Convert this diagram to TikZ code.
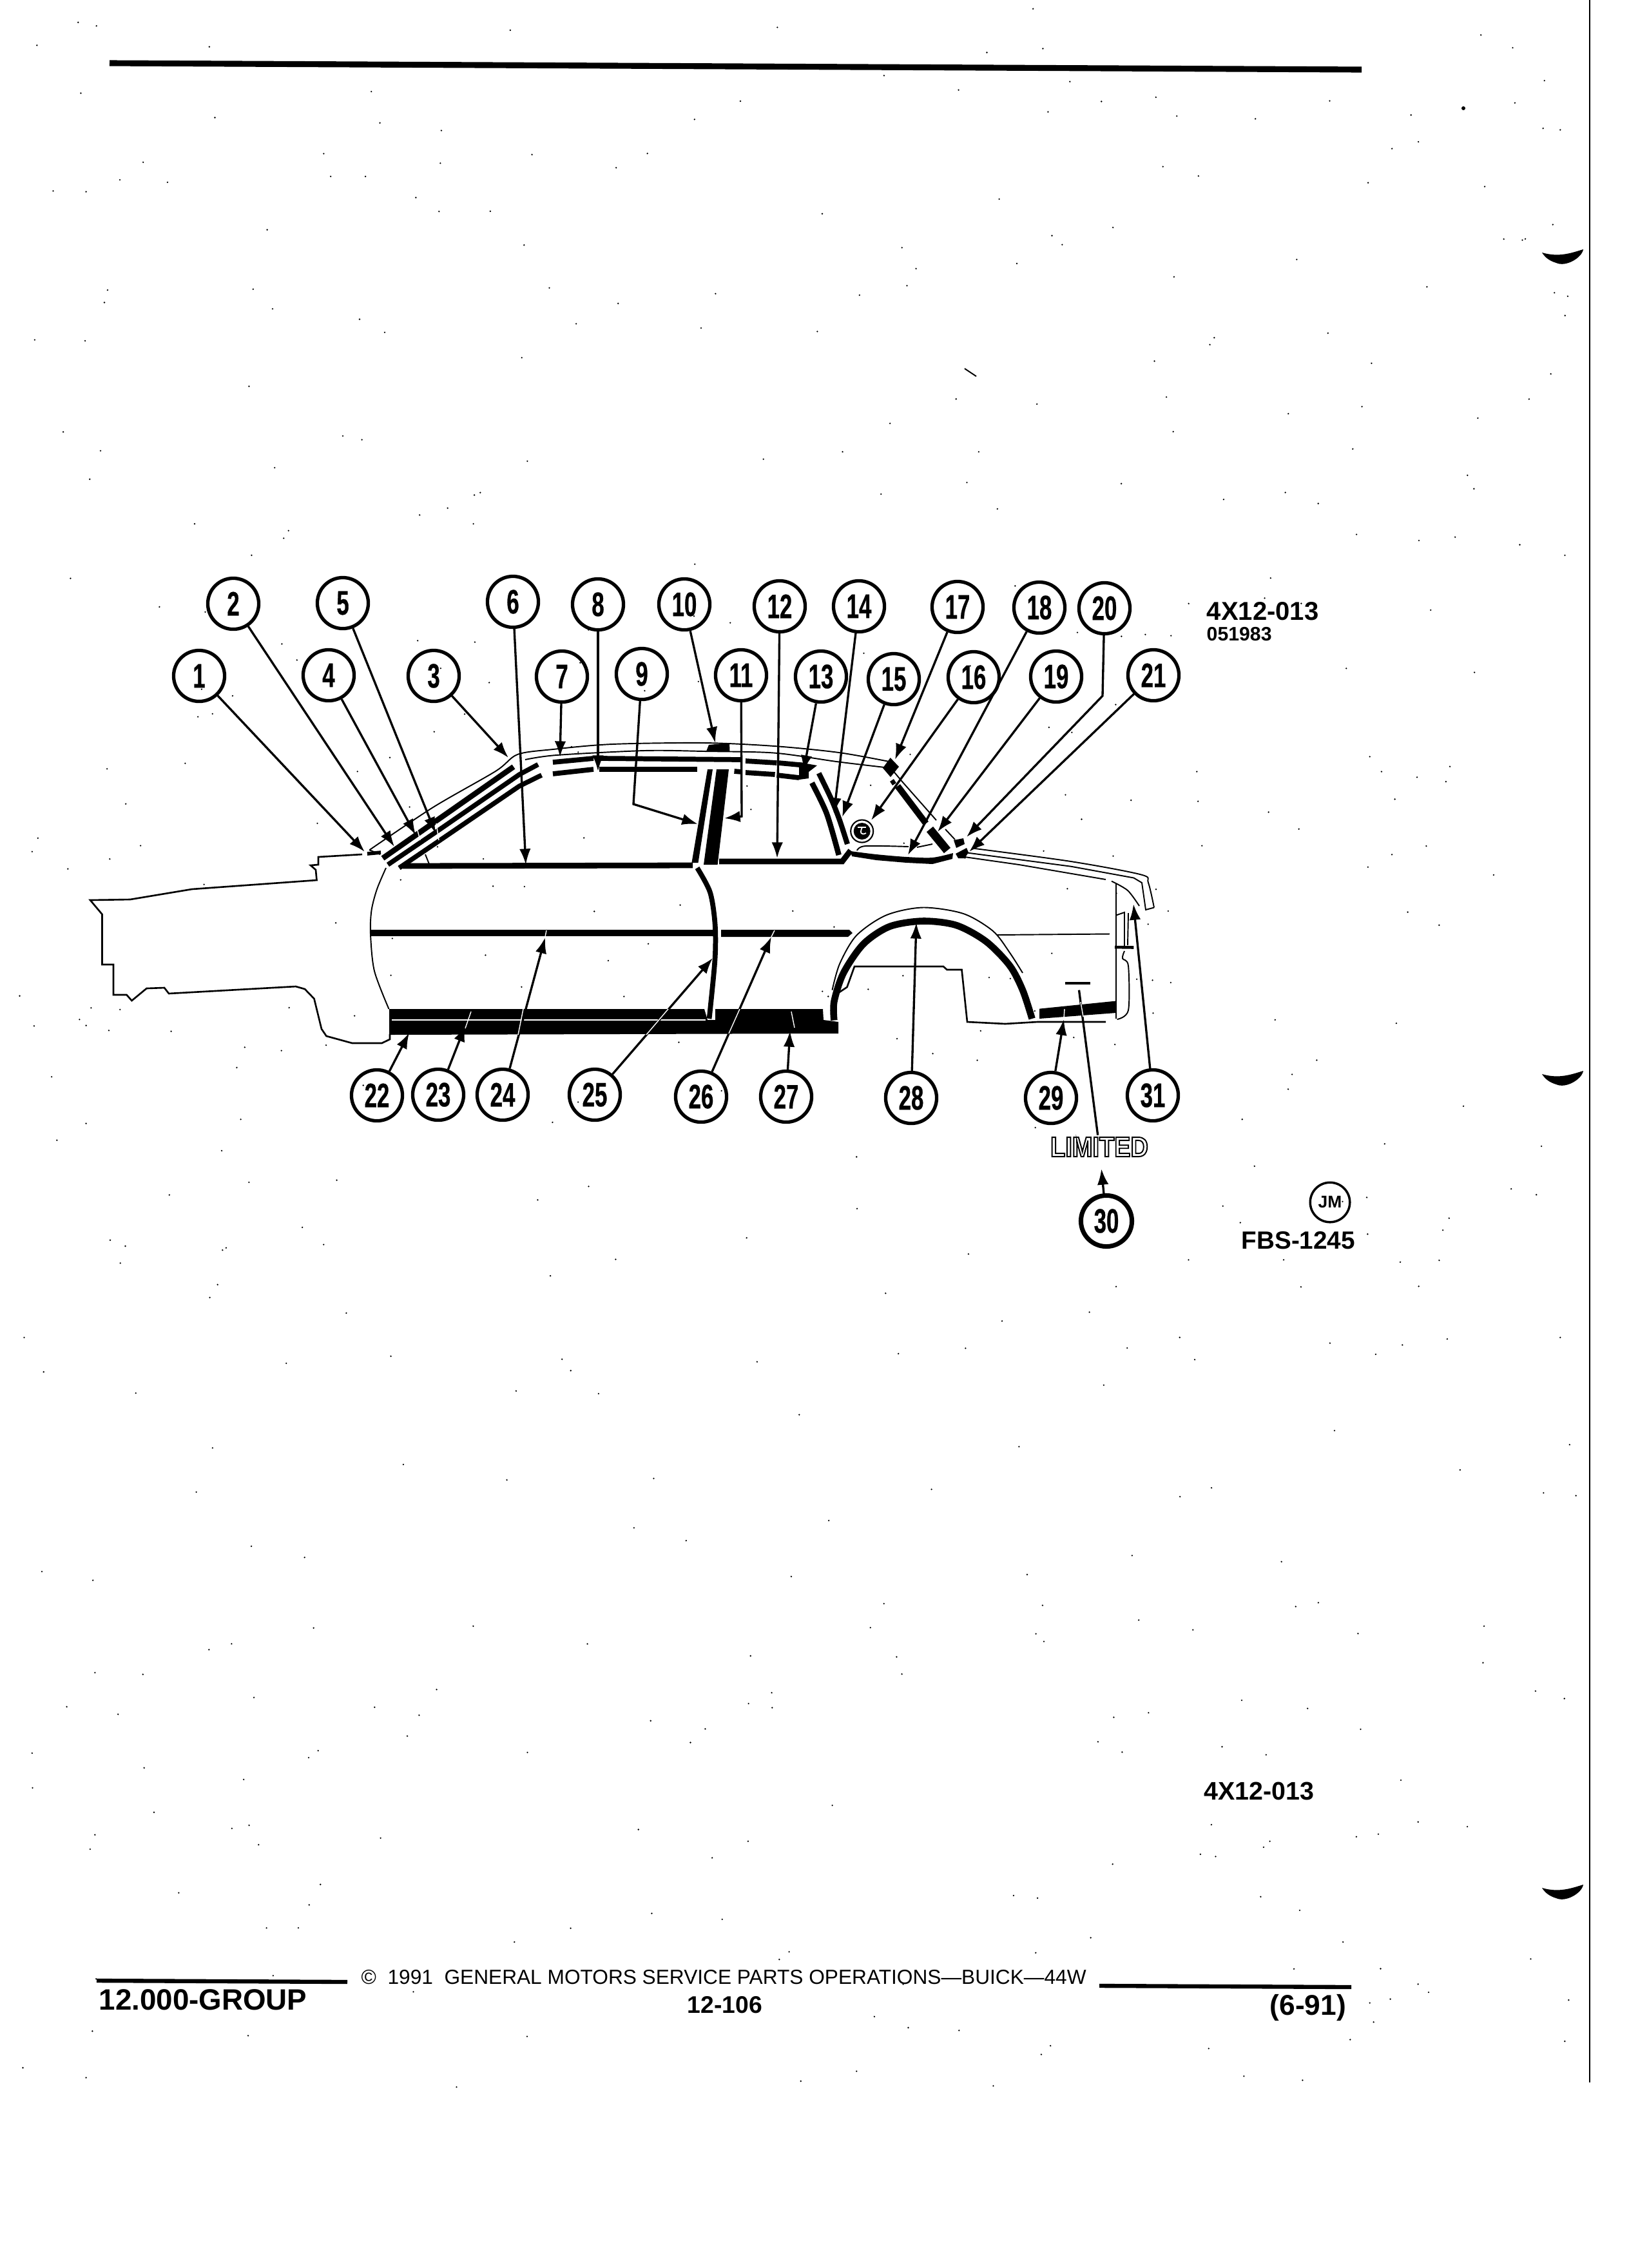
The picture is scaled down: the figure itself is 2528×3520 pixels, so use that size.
\documentclass[tikz,border=0pt]{standalone}
\usepackage{fontspec}
\setmainfont{Liberation Sans}
\newfontfamily\calloutfont[FakeStretch=0.66, FakeBold=0.5]{Liberation Sans}
\newfontfamily\limitedfont[FakeStretch=0.87]{Liberation Sans}
\usetikzlibrary{arrows.meta}
\tikzset{
	callout/.style={circle, draw, line width=1.5pt, minimum size=22.5pt, inner sep=0, font=\calloutfont\bfseries\fontsize{15}{15}\selectfont},
	leader/.style={line width=0.95pt, ->},
	wire/.style={line width=0.95pt},
	body/.style={line width=0.75pt},
	fine/.style={line width=0.55pt},
	stripe/.style={line width=2.4pt},
	seam/.style={white, line width=0.4pt},
	label/.style={inner sep=0, font=\bfseries\fontsize{11.4}{11.4}\selectfont},
	footer/.style={inner sep=0, anchor=west}
}
\begin{document}
\begin{tikzpicture}[x=0.01cm, y=-0.01cm, >={Latex[length=7pt, width=5pt]}]
	\useasboundingbox (0, 0) rectangle (2528, 3520);
	\fill[white] (0, 0) rectangle (2528, 3520);

	\pgfmathsetseed{1991}
	\foreach \i in {1,...,520} {
		\fill ({rnd*2420 + 30}, {rnd*3240}) circle (1.3);
	}

	\draw[line width=2.6pt] (170, 98) -- (2113, 108);
	\draw[line width=0.7pt] (2467, 0) -- (2467, 3232);
	\fill (2393, 392) .. controls (2420, 400) and (2440, 392) .. (2457, 387) .. controls (2455, 400) and (2430, 415) .. (2415, 408) .. controls (2405, 405) and (2398, 400) .. cycle;
	\fill (2393, 1667) .. controls (2420, 1675) and (2440, 1667) .. (2457, 1662) .. controls (2455, 1675) and (2430, 1690) .. (2415, 1683) .. controls (2405, 1680) and (2398, 1675) .. cycle;
	\fill (2393, 2930) .. controls (2420, 2938) and (2440, 2930) .. (2457, 2925) .. controls (2455, 2938) and (2430, 2953) .. (2415, 2946) .. controls (2405, 2943) and (2398, 2938) .. cycle;
	\fill (2271, 168) circle (3);
	\draw[fine] (1497, 572) -- (1515, 584);

	\draw[body] (562, 1326) -- (494, 1330) -- (494, 1342) -- (482, 1343) -- (490, 1350) -- (491.5, 1366) -- (298, 1380) -- (202, 1396) -- (140, 1397) -- (158.5, 1419) -- (158.5, 1497) -- (176, 1497) -- (176, 1544) -- (196.5, 1544) -- (204.5, 1553) -- (227.5, 1534) -- (255, 1533) -- (262, 1542) -- (459, 1531) -- (473, 1535) -- (487.5, 1550) -- (499, 1597) -- (506.5, 1608) -- (546.6, 1619) -- (592.5, 1619) -- (605, 1613) -- (605, 1605);
	\draw[fine] plot[smooth] coordinates {(599, 1347) (585, 1380) (576.5, 1413) (575, 1450) (581, 1507) (603.5, 1566)};

	\fill (604, 1566) -- (1093, 1566) -- (1098, 1583) -- (1110, 1583) -- (1110, 1566) -- (1277, 1566) -- (1278, 1583) -- (1301, 1586) -- (1301, 1604) -- (604, 1606) -- cycle;
	\draw[seam] (608, 1583) -- (1095, 1583);
	\draw[line width=2.8pt] (576, 1448) -- (1108, 1448);
	\fill (1119, 1443) -- (1318, 1443) -- (1323, 1448) -- (1316, 1454) -- (1119, 1454) -- cycle;
	\draw[line width=2.2pt] plot[smooth] coordinates {(1082, 1347) (1102, 1385) (1109.6, 1434) (1109.6, 1487.5) (1102, 1568) (1100.4, 1581)};

	\draw[line width=2.5pt] (625, 1344) -- (1075, 1343);
	\draw[line width=2.5pt] (1116, 1337) -- (1307, 1337) -- (1320, 1320);
	\draw[fine] (660, 1326) -- (666, 1341);
	\draw[fine] plot[smooth] coordinates {(573.6, 1319) (672, 1253) (769, 1197) (803, 1171) (858, 1163) (950, 1155) (1093, 1153) (1202, 1158) (1302, 1168) (1380, 1182)};
	\draw[fine] plot[smooth] coordinates {(815, 1179) (863.5, 1172) (1000, 1165) (1093, 1166) (1202, 1168.6) (1298, 1182) (1373, 1191)};
	\draw[line width=1.6pt] (570, 1325) -- (591, 1323);
	\draw[fine] (573, 1319) -- (590, 1326);

	\draw[stripe] (594, 1332) -- (797, 1190);
	\draw[line width=2.1pt] (602, 1342) -- (677, 1291) -- (806, 1202) -- (835, 1186.5);
	\draw[line width=2.1pt] (619.5, 1347) -- (680, 1306) -- (806, 1220) -- (840.5, 1203);
	\draw[seam] (677, 1278) -- (681, 1304);
	\draw[seam] (648, 1289) -- (652, 1304);

	\draw[line width=2.2pt] (858, 1183) -- (921, 1177);
	\draw[line width=2.2pt] (932, 1177) -- (1151, 1179);
	\draw[line width=2.2pt] (1157, 1181) -- (1205.5, 1184);
	\draw[line width=2.2pt] (1208, 1184) -- (1246, 1187.5);
	\draw[line width=2.2pt] (858, 1201) -- (921, 1194);
	\draw[line width=2.2pt] (929.5, 1194) -- (1082, 1194);
	\draw[line width=2.2pt] (1139.5, 1197) -- (1151, 1198);
	\draw[line width=2.2pt] (1157, 1199) -- (1202.6, 1202);
	\draw[line width=2.2pt] (1205.5, 1203) -- (1240, 1207);
	\fill (1240, 1183) -- (1268, 1188) -- (1255, 1198) -- (1255, 1208) -- (1240, 1210) -- cycle;
	\fill (1096, 1166) -- (1100, 1156) -- (1132, 1153) -- (1132.5, 1166) -- cycle;

	\fill (1098, 1194) -- (1106, 1194) -- (1083.5, 1339) -- (1073.4, 1339) -- cycle;
	\fill (1112, 1194) -- (1131, 1194) -- (1113.6, 1342) -- (1092, 1342) -- cycle;

	\draw[line width=2.3pt] plot[smooth] coordinates {(1270.7, 1200) (1290, 1240) (1303, 1273) (1315, 1310)};
	\draw[line width=2.4pt] plot[smooth] coordinates {(1260, 1215) (1283, 1263) (1301.7, 1327)};

	\fill (1381.7, 1176) -- (1395, 1190) -- (1382, 1206) -- (1370, 1192) -- cycle;
	\draw[line width=2pt] (1384, 1211) -- (1388, 1217);
	\draw[line width=2.8pt] (1393, 1220) -- (1437, 1278);
	\draw[line width=3.7pt] (1443, 1287) -- (1470, 1320);
	\draw[fine] (1384, 1194) -- (1400, 1213) -- (1453, 1273);
	\draw[fine] (1467, 1287) -- (1482, 1303);
	\fill (1480, 1304) -- (1495, 1301) -- (1497, 1310) -- (1484, 1316) -- cycle;
	\fill (1483, 1325) -- (1500, 1316) -- (1503, 1323) -- (1497, 1332) -- (1487, 1332) -- cycle;

	\fill plot[smooth] coordinates {(1320, 1321) (1360, 1326) (1407, 1330) (1447, 1331) (1479, 1324)} -- (1478, 1333) -- (1447, 1341) -- (1407, 1339) -- (1360, 1335) -- (1322, 1329) -- cycle;
	\draw[fine] plot[smooth] coordinates {(1330, 1320) (1343, 1313) (1410, 1314)};
	\draw[fine] (1423, 1315) -- (1447, 1310);

	\draw[fine] plot[smooth] coordinates {(1510, 1316.6) (1662, 1337) (1771, 1357.5) (1782, 1370) (1791, 1408.5)};
	\draw[fine] (1791, 1408.5) -- (1778, 1412) -- (1772, 1370) -- (1759.4, 1362.5) -- (1662, 1344.7) -- (1497, 1323);
	\draw[fine] (1497, 1330) -- (1581.5, 1342) -- (1716, 1365);

	\draw[fine] plot[smooth] coordinates {(1725, 1367.6) (1750, 1382) (1768, 1406)};
	\draw[fine] (1732, 1371) -- (1732, 1581);
	\draw[fine] (1732, 1420.5) -- (1745, 1416) -- (1745, 1470);
	\draw[fine] (1751, 1417) -- (1750, 1467);
	\draw[line width=1.3pt] (1730, 1470) -- (1759.4, 1470.5);
	\draw[fine] plot[smooth] coordinates {(1745, 1476) (1742, 1487.5) (1751, 1499) (1751, 1568) (1733.6, 1582)};
	\draw[fine] (1547, 1451) -- (1722, 1449.5);

	\draw[body] (1716, 1586) -- (1610, 1586) -- (1560, 1589) -- (1501, 1586) -- (1492.5, 1505) -- (1469.5, 1505) -- (1464, 1500) -- (1326, 1500) -- (1314.5, 1532) -- (1301, 1541);
	\draw[line width=3pt] plot[smooth] coordinates {(1294.4, 1583.5) (1294.4, 1554.5) (1309, 1510) (1340, 1465) (1380.5, 1438) (1432, 1429.5) (1484, 1436) (1530, 1461) (1567, 1498.7) (1587, 1536.6) (1601.6, 1581)};
	\draw[fine] plot[smooth] coordinates {(1291.5, 1536.6) (1303, 1496) (1329, 1452) (1375, 1420.5) (1432, 1408.5) (1495, 1418) (1541, 1445) (1567, 1478.6) (1587, 1510)};
	\fill (1613, 1565.6) -- (1731, 1553.6) -- (1732, 1572) -- (1613, 1581) -- cycle;
	\draw[line width=1.1pt] (1653, 1526) -- (1692, 1526);

	\draw[line width=0.6pt] (1337.7, 1290) circle (17.5);
	\fill (1337.7, 1290) circle (13);
	\draw[seam, line width=0.5pt] (1331, 1284) -- (1344, 1284);
	\draw[seam, line width=0.5pt] (1338, 1284) .. controls (1334, 1292) and (1336, 1297) .. (1344, 1293);

	\node[callout] (n1) at (309, 1049) {1};
	\node[callout] (n2) at (362, 937) {2};
	\node[callout] (n3) at (673, 1049) {3};
	\node[callout] (n4) at (510, 1048) {4};
	\node[callout] (n5) at (532, 936) {5};
	\node[callout] (n6) at (796, 934) {6};
	\node[callout] (n7) at (872, 1050) {7};
	\node[callout] (n8) at (928, 938) {8};
	\node[callout] (n9) at (996, 1046) {9};
	\node[callout] (n10) at (1062, 938) {10};
	\node[callout] (n11) at (1150, 1048) {11};
	\node[callout] (n12) at (1210, 941) {12};
	\node[callout] (n13) at (1274, 1050) {13};
	\node[callout] (n14) at (1333, 941) {14};
	\node[callout] (n15) at (1387, 1054) {15};
	\node[callout] (n16) at (1511, 1051) {16};
	\node[callout] (n17) at (1486, 942) {17};
	\node[callout] (n18) at (1613, 943) {18};
	\node[callout] (n19) at (1639, 1050) {19};
	\node[callout] (n20) at (1714, 944) {20};
	\node[callout] (n21) at (1790, 1048) {21};
	\node[callout] (n22) at (585, 1700) {22};
	\node[callout] (n23) at (680, 1699) {23};
	\node[callout] (n24) at (780, 1699) {24};
	\node[callout] (n25) at (923, 1699) {25};
	\node[callout] (n26) at (1088, 1702) {26};
	\node[callout] (n27) at (1220, 1702) {27};
	\node[callout] (n28) at (1414, 1704) {28};
	\node[callout] (n29) at (1631, 1704) {29};
	\node[callout, line width=2pt] (n30) at (1717, 1895) {30};
	\node[callout] (n31) at (1789, 1700) {31};

	\node[inner sep=0, minimum width=43pt, minimum height=10pt, font=\limitedfont\bfseries\fontsize{12.4}{12.4}\selectfont] (limited) at (1706, 1780) {\special{pdf:code 1 Tr 0.55 w}LIMITED\special{pdf:code 0 Tr}};

	\coordinate (t1) at (566, 1322);
	\coordinate (t2) at (612, 1314);
	\coordinate (t3) at (789, 1176);
	\coordinate (t4) at (645, 1296);
	\coordinate (t5) at (676, 1293);
	\coordinate (t6) at (816, 1342);
	\coordinate (t7) at (869, 1175);
	\coordinate (t8) at (928, 1197);
	\coordinate (b9) at (983, 1248);
	\coordinate (t9) at (1083, 1279);
	\coordinate (t10) at (1110, 1153);
	\coordinate (b11) at (1151, 1267);
	\coordinate (t11) at (1124, 1270);
	\coordinate (t12) at (1206, 1332);
	\coordinate (t13) at (1247, 1197);
	\coordinate (t14) at (1294, 1263);
	\coordinate (t15) at (1307, 1268);
	\coordinate (t16) at (1352, 1273);
	\coordinate (t17) at (1389, 1179);
	\coordinate (t18) at (1409, 1327);
	\coordinate (t19) at (1455, 1291);
	\coordinate (b20) at (1711, 1080);
	\coordinate (t20) at (1500, 1299);
	\coordinate (t21) at (1504, 1322);
	\coordinate (t22) at (635, 1603);
	\coordinate (t23) at (722, 1592);
	\coordinate (t24) at (846, 1455);
	\coordinate (t25) at (1106, 1487);
	\coordinate (t26) at (1197, 1454);
	\coordinate (t27) at (1226, 1600);
	\coordinate (t28) at (1422, 1432);
	\coordinate (t29) at (1651, 1582);
	\coordinate (t30) at (1674.5, 1536.6);
	\coordinate (t31) at (1759, 1403);

	\draw[leader] (n1) -- (t1);
	\draw[leader] (n2) -- (t2);
	\draw[leader] (n3) -- (t3);
	\draw[leader] (n4) -- (t4);
	\draw[leader] (n5) -- (t5);
	\draw[leader] (n6) -- (t6);
	\draw[leader] (n7) -- (t7);
	\draw[leader] (n8) -- (t8);
	\draw[leader] (n9) -- (b9) -- (t9);
	\draw[leader] (n10) -- (t10);
	\draw[leader] (n11) -- (b11) -- (t11);
	\draw[leader] (n12) -- (t12);
	\draw[leader] (n13) -- (t13);
	\draw[leader] (n14) -- (t14);
	\draw[leader] (n15) -- (t15);
	\draw[leader] (n16) -- (t16);
	\draw[leader] (n17) -- (t17);
	\draw[leader] (n18) -- (t18);
	\draw[leader] (n19) -- (t19);
	\draw[leader] (n20) -- (b20) -- (t20);
	\draw[leader] (n21) -- (t21);
	\draw[leader] (n22) -- (t22);
	\draw[leader] (n23) -- (t23);
	\draw[leader] (n24) -- (t24);
	\draw[leader] (n25) -- (t25);
	\draw[leader] (n26) -- (t26);
	\draw[leader] (n27) -- (t27);
	\draw[leader] (n28) -- (t28);
	\draw[leader] (n29) -- (t29);
	\draw[leader, shorten >=4.5pt] (n30) -- (limited);
	\draw[wire] (limited) -- (t30);
	\draw[leader] (n31) -- (t31);

	\draw[seam] (804, 1606) -- (812, 1566);
	\draw[seam] (1003, 1606) -- (1037, 1566);
	\draw[seam] (1131, 1604) -- (1148, 1566);
	\draw[seam] (722, 1596) -- (731, 1570);
	\draw[seam] (1228, 1570) -- (1233, 1595);
	\draw[seam] (1651, 1580) -- (1652, 1566);
	\draw[seam] (1677, 1555) -- (1681, 1578);
	\draw[seam] (846, 1454) -- (848, 1444);
	\draw[seam] (1197, 1454) -- (1202, 1444);

	\node[label, anchor=west] (code) at (1872, 949) {4X12-013};
	\node[label, anchor=west, font=\bfseries\fontsize{8.6}{8.6}\selectfont] (date) at (1872, 984) {051983};
	\node[circle, draw, line width=1pt, minimum size=17.5pt, inner sep=0, font=\bfseries\fontsize{7.5}{7.5}\selectfont] (artist) at (2064, 1866) {JM};
	\node[label, anchor=west, font=\bfseries\fontsize{11}{11}\selectfont] (plate) at (1926, 1925) {FBS-1245};
	\node[label, anchor=west, font=\bfseries\fontsize{11.2}{11.2}\selectfont] (codebis) at (1868, 2780) {4X12-013};

	\draw[line width=1.8pt] (150, 3074) -- (539, 3076);
	\draw[line width=1.8pt] (1706, 3082) -- (2097, 3084);
	\node[footer, font=\bfseries\fontsize{13}{13}\selectfont] (group) at (153, 3104) {12.000-GROUP};
	\node[footer, font=\fontsize{9}{9}\selectfont] (notice) at (560, 3069) {©\ \ 1991\ \ GENERAL MOTORS SERVICE PARTS OPERATIONS—BUICK—44W};
	\node[footer, font=\bfseries\fontsize{10.6}{10.6}\selectfont] (page) at (1066, 3112) {12-106};
	\node[footer, font=\bfseries\fontsize{12.6}{12.6}\selectfont] (rev) at (1970, 3116) {(6-91)};
\end{tikzpicture}
\end{document}
